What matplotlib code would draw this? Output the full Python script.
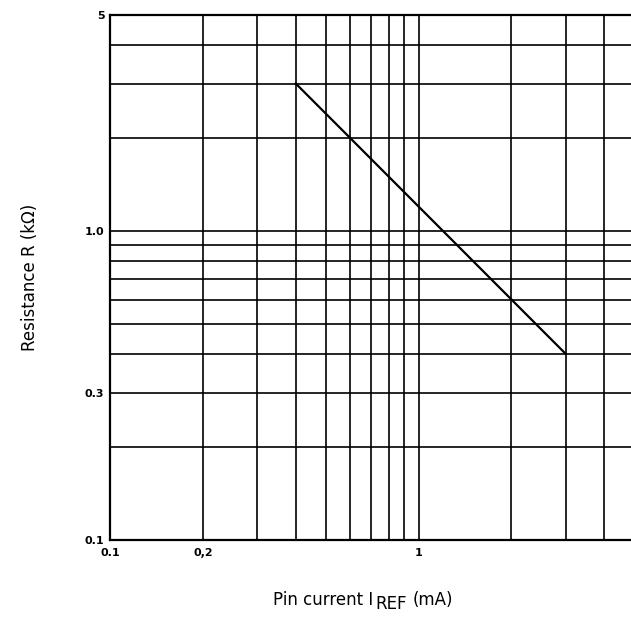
import matplotlib.pyplot as plt
from matplotlib.ticker import FixedLocator, NullLocator

# data
current_ma = [0.4, 3.0]
resistance_k = [3.0, 0.4]

x_grid = [0.2, 0.3, 0.4, 0.5, 0.6, 0.7, 0.8, 0.9, 1, 2, 3, 4]
y_grid = [0.2, 0.3, 0.4, 0.5, 0.6, 0.7, 0.8, 0.9, 1.0, 2, 3, 4]

x_ticks = [0.1, 0.2, 1]
x_labels = ['0.1', '0,2', '1']
y_ticks = [0.1, 0.3, 1.0, 5]
y_labels = ['0.1', '0.3', '1.0', '5']

plt.rcParams['font.family'] = ['DejaVu Sans']

W, H = 631, 618
fig = plt.figure(figsize=(W / 100, H / 100), dpi=100)
ax = fig.add_axes([110 / W, 1 - 540 / H, 1 - 110 / W, (540 - 15) / H])

ax.set_xscale('log')
ax.set_yscale('log')
ax.set_xlim(0.1, 4.88)
ax.set_ylim(0.1, 5)

for gx in x_grid:
    ax.axvline(gx, color='black', lw=1.2)
for gy in y_grid:
    ax.axhline(gy, color='black', lw=1.2)

ax.plot(current_ma, resistance_k, color='black', lw=1.6)

ax.xaxis.set_major_locator(FixedLocator(x_ticks))
ax.xaxis.set_minor_locator(NullLocator())
ax.set_xticklabels(x_labels)
ax.yaxis.set_major_locator(FixedLocator(y_ticks))
ax.yaxis.set_minor_locator(NullLocator())
ax.set_yticklabels(y_labels)
ax.tick_params(axis='both', length=0, labelsize=8)
ax.tick_params(axis='x', pad=6)
ax.tick_params(axis='y', pad=4)
for lab in ax.get_xticklabels() + ax.get_yticklabels():
    lab.set_fontweight('bold')

ax.spines['right'].set_visible(False)
for s in ['left', 'top', 'bottom']:
    ax.spines[s].set_linewidth(1.6)

fig.text(30 / W, 1 - 277 / H, 'Resistance R (k\u03a9)', rotation=90,
         ha='center', va='center', fontsize=12)

# x label in parts so that REF stays full size and drops a little
renderer = fig.canvas.get_renderer()
parts = [('Pin current I', 605, 2), ('REF', 609, 6), ('(mA)', 605, 0)]
texts = []
x = 0
for s, base, gap in parts:
    t = fig.text(x / W, 1 - base / H, s, ha='left', va='baseline', fontsize=12)
    x = t.get_window_extent(renderer).x1 + gap
    texts.append(t)
shift = 363 - x / 2
for t in texts:
    px, py = t.get_position()
    t.set_position((px + shift / W, py))

fig.savefig('out.png', dpi=100)
